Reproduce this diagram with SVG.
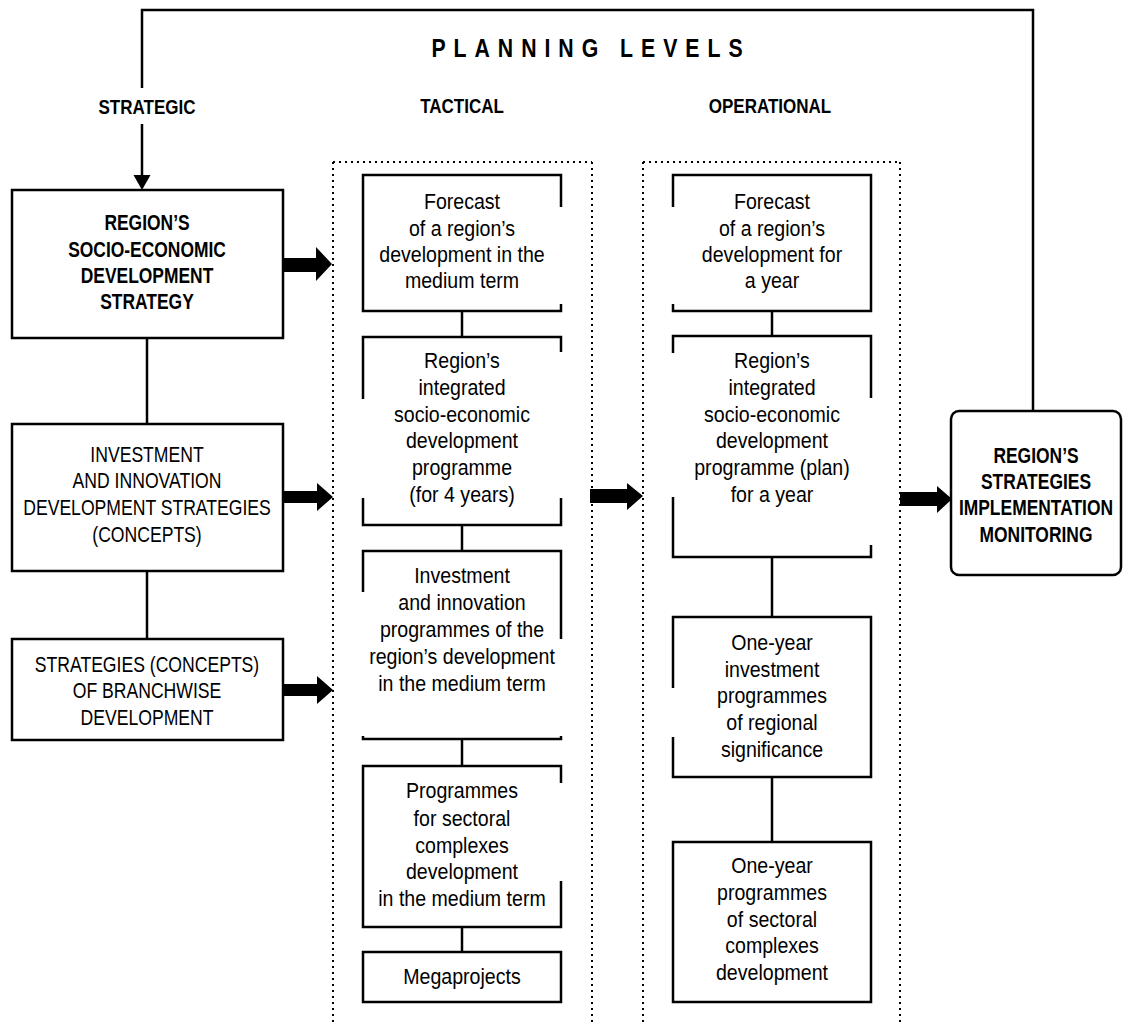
<svg xmlns="http://www.w3.org/2000/svg" width="1123" height="1025" viewBox="0 0 1123 1025">
<style>
.bx{fill:none;stroke:#000;stroke-width:2.5}
.ln{fill:none;stroke:#000;stroke-width:2.5}
.dot{fill:none;stroke:#000;stroke-width:2;stroke-dasharray:2 4}
.ar{fill:#000;stroke:none}
text{font-family:"Liberation Sans Narrow","Arial Narrow","Liberation Sans",Arial,sans-serif;fill:#000;text-anchor:middle}
.t{font-size:22px}
.tb{font-size:22.5px;font-weight:bold}
.h{font-size:20.5px;font-weight:bold}
</style>
<rect width="1123" height="1025" fill="#fff"/>
<g id="headers">
<g transform="translate(587 0) scale(0.85 1)"><text x="0" y="57" font-size="25" font-weight="bold" textLength="366" lengthAdjust="spacing">PLANNING LEVELS</text></g>
<g transform="translate(147 0) scale(0.83 1)"><text class="h" x="0" y="114">STRATEGIC</text></g>
<g transform="translate(462 0) scale(0.83 1)"><text class="h" x="0" y="113">TACTICAL</text></g>
<g transform="translate(770 0) scale(0.83 1)"><text class="h" x="0" y="113">OPERATIONAL</text></g>
</g>
<g id="columns">
<path class="dot" d="M333,162 H592 M333,162 V1022 M592,162 V1022"/>
<path class="dot" d="M643,162 H900 M643,162 V1022 M900,162 V1022"/>
</g>
<g id="connectors">
<polyline class="ln" points="1033,411 1033,10 142,10 142,88"/>
<line class="ln" x1="142" y1="124" x2="142" y2="177"/>
<polygon class="ar" points="133.5,175 150.5,175 142,190"/>
<line class="ln" x1="147" y1="338" x2="147" y2="424"/>
<line class="ln" x1="147" y1="571" x2="147" y2="639"/>
<line class="ln" x1="462" y1="311" x2="462" y2="337"/>
<line class="ln" x1="462" y1="525" x2="462" y2="551"/>
<line class="ln" x1="462" y1="739" x2="462" y2="766"/>
<line class="ln" x1="462" y1="927" x2="462" y2="952"/>
<line class="ln" x1="772" y1="311" x2="772" y2="336"/>
<line class="ln" x1="772" y1="557" x2="772" y2="617"/>
<line class="ln" x1="772" y1="777" x2="772" y2="842"/>
<polygon class="ar" points="283,258 316,258 316,247 332,264 316,281 316,272 283,272"/>
<polygon class="ar" points="283,491 317,491 317,483 333,497 317,511 317,503 283,503"/>
<polygon class="ar" points="283,684 317,684 317,676 333,690 317,704 317,696 283,696"/>
<polygon class="ar" points="590,489 627,489 627,483 643,496 627,510 627,503 590,503"/>
<polygon class="ar" points="900,492 937,492 937,486 952,499 937,513 937,506 900,506"/>
</g>
<g id="s1">
<rect class="bx" x="12" y="190" width="271" height="148"/>
<g transform="translate(147 0) scale(0.775 1)">
<text class="tb" x="0" y="230">REGION’S</text>
<text class="tb" x="0" y="257">SOCIO-ECONOMIC</text>
<text class="tb" x="0" y="283">DEVELOPMENT</text>
<text class="tb" x="0" y="309">STRATEGY</text>
</g>
</g>
<g id="s2">
<rect class="bx" x="12" y="424" width="271" height="147"/>
<g transform="translate(147 0) scale(0.8 1)">
<text class="t" x="0" y="462">INVESTMENT</text>
<text class="t" x="0" y="488">AND INNOVATION</text>
<text class="t" x="0" y="515">DEVELOPMENT STRATEGIES</text>
<text class="t" x="0" y="542">(CONCEPTS)</text>
</g>
</g>
<g id="s3">
<rect class="bx" x="12" y="639" width="271" height="101"/>
<g transform="translate(147 0) scale(0.8 1)">
<text class="t" x="0" y="672">STRATEGIES (CONCEPTS)</text>
<text class="t" x="0" y="698">OF BRANCHWISE</text>
<text class="t" x="0" y="725">DEVELOPMENT</text>
</g>
</g>
<g id="t1">
<path class="bx" d="M561,207 V175 H363 V311 H561 V304"/>
<g transform="translate(462 0) scale(0.89 1)">
<text class="t" x="0" y="209">Forecast</text>
<text class="t" x="0" y="236">of a region’s</text>
<text class="t" x="0" y="262">development in the</text>
<text class="t" x="0" y="288">medium term</text>
</g>
</g>
<g id="t2">
<path class="bx" d="M363,399 V337 H561 V352 M363,498 V525 H561 V498"/>
<g transform="translate(462 0) scale(0.89 1)">
<text class="t" x="0" y="368">Region’s</text>
<text class="t" x="0" y="395">integrated</text>
<text class="t" x="0" y="422">socio-economic</text>
<text class="t" x="0" y="448">development</text>
<text class="t" x="0" y="475">programme</text>
<text class="t" x="0" y="502">(for 4 years)</text>
</g>
</g>
<g id="t3">
<path class="bx" d="M363,592 V551 H561 V639 M363,736 V739 H561 V736"/>
<g transform="translate(462 0) scale(0.89 1)">
<text class="t" x="0" y="583">Investment</text>
<text class="t" x="0" y="610">and innovation</text>
<text class="t" x="0" y="637">programmes of the</text>
<text class="t" x="0" y="664">region’s development</text>
<text class="t" x="0" y="691">in the medium term</text>
</g>
</g>
<g id="t4">
<path class="bx" d="M561,783 V766 H363 V927 H561 V881"/>
<g transform="translate(462 0) scale(0.89 1)">
<text class="t" x="0" y="798">Programmes</text>
<text class="t" x="0" y="826">for sectoral</text>
<text class="t" x="0" y="853">complexes</text>
<text class="t" x="0" y="879">development</text>
<text class="t" x="0" y="906">in the medium term</text>
</g>
</g>
<g id="t5">
<rect class="bx" x="363" y="952" width="198" height="50"/>
<g transform="translate(462 0) scale(0.89 1)">
<text class="t" x="0" y="984">Megaprojects</text>
</g>
</g>
<g id="o1">
<path class="bx" d="M673,207 V175 H871 V311 H673 V304"/>
<g transform="translate(772 0) scale(0.89 1)">
<text class="t" x="0" y="209">Forecast</text>
<text class="t" x="0" y="236">of a region’s</text>
<text class="t" x="0" y="262">development for</text>
<text class="t" x="0" y="288">a year</text>
</g>
</g>
<g id="o2">
<path class="bx" d="M673,353 V336 H871 V398 M673,497 V557 H871 V545"/>
<g transform="translate(772 0) scale(0.89 1)">
<text class="t" x="0" y="368">Region’s</text>
<text class="t" x="0" y="395">integrated</text>
<text class="t" x="0" y="422">socio-economic</text>
<text class="t" x="0" y="448">development</text>
<text class="t" x="0" y="475">programme (plan)</text>
<text class="t" x="0" y="502">for a year</text>
</g>
</g>
<g id="o3">
<path class="bx" d="M673,688 V617 H871 V777 H673 V737"/>
<g transform="translate(772 0) scale(0.89 1)">
<text class="t" x="0" y="650">One-year</text>
<text class="t" x="0" y="677">investment</text>
<text class="t" x="0" y="703">programmes</text>
<text class="t" x="0" y="730">of regional</text>
<text class="t" x="0" y="757">significance</text>
</g>
</g>
<g id="o4">
<rect class="bx" x="673" y="842" width="198" height="160"/>
<g transform="translate(772 0) scale(0.89 1)">
<text class="t" x="0" y="873">One-year</text>
<text class="t" x="0" y="900">programmes</text>
<text class="t" x="0" y="927">of sectoral</text>
<text class="t" x="0" y="953">complexes</text>
<text class="t" x="0" y="980">development</text>
</g>
</g>
<g id="m">
<rect class="bx" x="951" y="411" width="170" height="164" rx="8"/>
<g transform="translate(1036 0) scale(0.775 1)">
<text class="tb" x="0" y="463">REGION’S</text>
<text class="tb" x="0" y="489">STRATEGIES</text>
<text class="tb" x="0" y="515">IMPLEMENTATION</text>
<text class="tb" x="0" y="542">MONITORING</text>
</g>
</g>
</svg>
